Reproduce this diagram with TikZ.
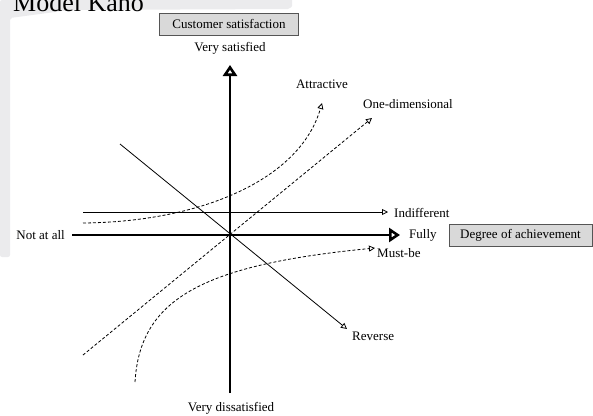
\documentclass[tikz,border=0pt]{standalone}
\usepackage{fontspec}
\setmainfont{Liberation Serif}
\usetikzlibrary{arrows.meta}
\definecolor{bgpanel}{HTML}{EBEBED}
\definecolor{boxfill}{HTML}{D9D9D9}
\definecolor{boxline}{HTML}{555555}
\begin{document}
\begin{tikzpicture}[x=1pt,y=-1pt,
  lbl/.style={inner sep=0pt,font=\fontsize{13}{15}\selectfont},
  titlebox/.style={draw=boxline,fill=boxfill,line width=0.9pt,inner sep=0pt,
    minimum height=22pt,font=\fontsize{13}{15}\selectfont},
  axisline/.style={line width=2.6pt,-{Triangle[open,length=11pt,width=14pt]}},
  thinline/.style={line width=0.8pt,-{Triangle[open,length=6pt,width=6pt]}},
  curveline/.style={line width=0.8pt,dash pattern=on 3pt off 2pt,
    -{Triangle[open,length=6pt,width=6pt,line width=0.8pt]}}]
\useasboundingbox (0,0) rectangle (593,415);
\clip (0,0) rectangle (593,415);
% faint background panel
\fill[bgpanel] (0,0) -- (292,0) -- (292,6) [rounded corners=2pt]-- (290,9) -- (70,10) -- (10,18) -- (10,257) -- (0,257) -- cycle;
\node[anchor=base west,inner sep=0pt,font=\fontsize{26}{28}\selectfont] (title) at (13,11) {Model Kano};

% coordinates
\coordinate (O) at (230,235);
\coordinate (ytop) at (230,65);
\coordinate (ybot) at (230,393);
\coordinate (xleft) at (72,235);
\coordinate (xright) at (400,235);
\coordinate (indL) at (83,212);
\coordinate (indR) at (388,212);
\coordinate (revS) at (120,144);
\coordinate (revE) at (347,329);
\coordinate (attS) at (83,223);
\coordinate (attE) at (322,103);
\coordinate (oneS) at (83,355);
\coordinate (oneE) at (372,118);
\coordinate (musS) at (135,382);
\coordinate (musE) at (375,248);

% boxes and labels
\node[titlebox,minimum width=139pt] (cs) at (229,24) {Customer satisfaction};
\node[titlebox,minimum width=143pt] (da) at (520.5,235.5) {Degree of achievement};
\node[lbl] (vs) at (230,48) {Very satisfied};
\node[lbl] (vd) at (231,408) {Very dissatisfied};
\node[lbl,anchor=east] (nat) at (65,235) {Not at all};
\node[lbl,anchor=west] (fully) at (409,235) {Fully};
\node[lbl,anchor=west] (indiff) at (394,213) {Indifferent};
\node[lbl,anchor=west] (mustbe) at (377,253) {Must-be};
\node[lbl,anchor=west] (rev) at (352,336) {Reverse};
\node[lbl] (attr) at (322,84) {Attractive};
\node[lbl,anchor=west] (oned) at (363,104) {One-dimensional};

% axes
\draw[axisline] (ybot) -- (ytop);
\draw[axisline] (xleft) -- (xright);

% thin lines
\draw[thinline] (indL) -- (indR);
\draw[thinline] (revS) -- (revE);

% dashed curves
\draw[curveline] (attS) .. controls (200,222) and (300,180) .. (attE);
\draw[curveline] (oneS) -- (oneE);
\draw[curveline] (musS) .. controls (140,300) and (200,265) .. (musE);
\end{tikzpicture}
\end{document}
